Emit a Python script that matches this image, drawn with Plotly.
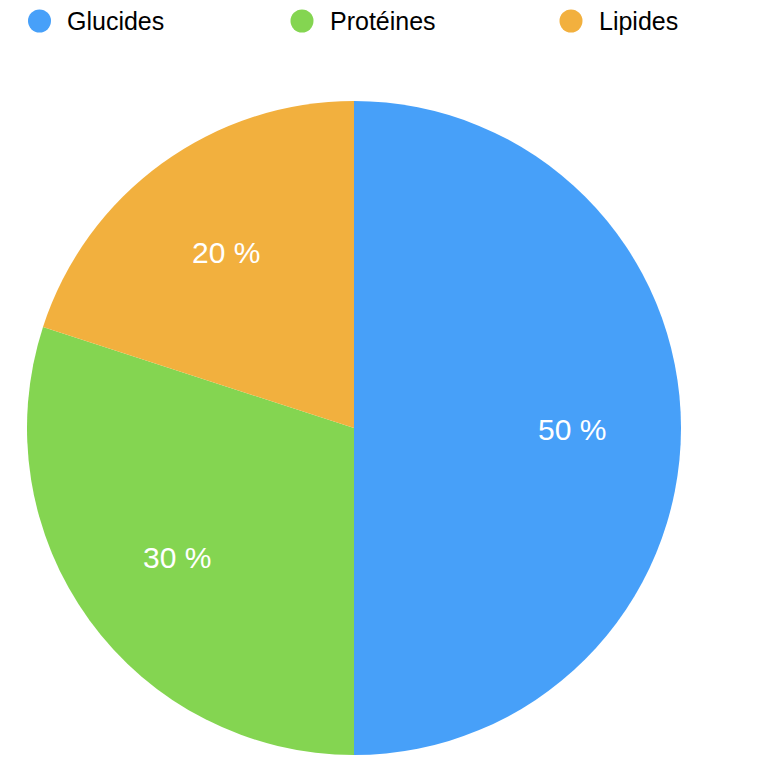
import math
import plotly.graph_objects as go

categories = ["Glucides", "Protéines", "Lipides"]
values = [50, 30, 20]
colors = ["#47A0F9", "#84D551", "#F2B03E"]

W, H = 764, 768
# pie geometry (pixels)
cx, cy, r = 354, 428, 327
dom_x = [(cx - r) / W, (cx + r) / W]
dom_y = [(H - cy - r) / H, (H - cy + r) / H]

FONT = "Liberation Sans, Arial, Helvetica, sans-serif"

fig = go.Figure()
fig.add_trace(go.Pie(
    labels=categories, values=values, sort=False, direction="clockwise",
    rotation=0, marker=dict(colors=colors, line=dict(width=0)),
    textinfo="none", hoverinfo="label+percent", showlegend=False,
    domain=dict(x=dom_x, y=dom_y),
))

annotations = []
total = sum(values)
cum = 0
for cat, v in zip(categories, values):
    mid = (cum + v / 2) / total * 2 * math.pi
    cum += v
    px = cx + 0.668 * r * math.sin(mid)
    py = cy - 0.668 * r * math.cos(mid)
    annotations.append(dict(
        x=px / W, y=1 - (py + 1.5) / H, xref="paper", yref="paper",
        text=f"{round(v / total * 100)} %", showarrow=False,
        font=dict(family=FONT, size=30, color="white"),
        xanchor="center", yanchor="middle",
    ))

# legend drawn as circles + text
legend_x = [39.5, 302, 571]
legend_y = 21
shapes = []
for lx, cat, col in zip(legend_x, categories, colors):
    shapes.append(dict(
        type="circle", xref="paper", yref="paper",
        x0=(lx - 11.5) / W, x1=(lx + 11.5) / W,
        y0=1 - (legend_y + 11.5) / H, y1=1 - (legend_y - 11.5) / H,
        fillcolor=col, line=dict(width=0),
    ))
    annotations.append(dict(
        x=(lx + 25.5) / W, y=1 - legend_y / H, xref="paper", yref="paper",
        text=cat, showarrow=False, xanchor="left", yanchor="middle",
        font=dict(family=FONT, size=25, color="black"),
    ))

fig.update_layout(
    width=W, height=H, margin=dict(l=0, r=0, t=0, b=0),
    paper_bgcolor="white", plot_bgcolor="white",
    annotations=annotations, shapes=shapes, showlegend=False,
)

fig.write_html("out.html")
